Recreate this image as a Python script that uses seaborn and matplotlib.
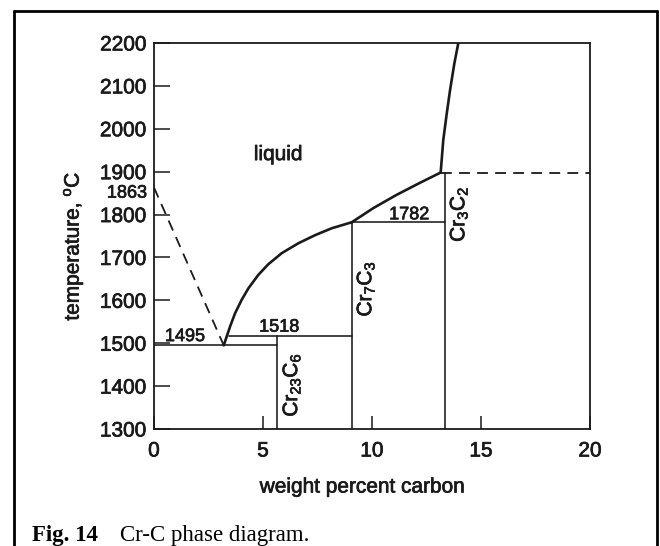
import numpy as np
import pandas as pd
import matplotlib
matplotlib.use("Agg")
import matplotlib.pyplot as plt
import matplotlib.patheffects as pe
import seaborn as sns
from matplotlib.lines import Line2D

# ---------------- data ----------------
# liquidus from the eutectic up to the Cr7C3 peritectic
liq1_x = [3.2, 3.49, 3.72, 4.02, 4.33, 4.78, 5.24, 5.86, 6.62, 7.39, 8.15, 9.07]
liq1_T = [1495, 1539, 1570, 1601, 1628, 1659, 1684, 1710, 1733, 1752, 1768, 1782]
# liquidus from Cr7C3 peritectic to Cr3C2 congruent melting
liq2_x = [9.07, 10.06, 11.13, 12.2, 13.15]
liq2_T = [1782, 1815, 1846, 1874, 1898]
# liquidus above Cr3C2
liq3_x = [13.15, 13.27, 13.43, 13.58, 13.78, 13.96]
liq3_T = [1898, 1974, 2036, 2090, 2153, 2200]
# dashed (uncertain) boundaries
dash1_x = [0, 3.2]
dash1_T = [1863, 1495]
dash2_x = [13.15, 20]
dash2_T = [1898, 1898]

# compounds (composition, wt% C) and invariant temperatures
comp_names = ["Cr$_{23}$C$_{6}$", "Cr$_{7}$C$_{3}$", "Cr$_{3}$C$_{2}$"]
comp_x = [5.66, 9.07, 13.33]
comp_top_T = [1518, 1782, 1898]
eutectic_T = 1495
peritectic1_T = 1518
peritectic2_T = 1782
cr_melt_T = 1863

x_ticks = [0, 5, 10, 15, 20]
y_ticks = [1300, 1400, 1500, 1600, 1700, 1800, 1900, 2000, 2100, 2200]

# ---------------- style ----------------
sns.set_theme(style="white")
plt.rcParams["font.family"] = ["Liberation Sans", "DejaVu Sans"]
plt.rcParams["mathtext.default"] = "regular"

col = "#1a1a1a"
thick = [pe.withStroke(linewidth=0.5, foreground=col)]

fig = plt.figure(figsize=(6.6, 5.46), dpi=100)
ax = fig.add_axes([154 / 660, 1 - 429 / 546, (590 - 154) / 660, (429 - 43) / 546])
ax.set_facecolor("white")

lw_curve = 1.9
lw_line = 1.15

def seg(xs, ts, lw):
    df = pd.DataFrame({"x": xs, "T": ts})
    sns.lineplot(data=df, x="x", y="T", sort=False, estimator=None, ax=ax,
                 color=col, lw=lw, solid_joinstyle="round", solid_capstyle="round")

seg(liq1_x, liq1_T, lw_curve)
seg(liq2_x, liq2_T, lw_curve)
seg(liq3_x, liq3_T, lw_curve)
ax.plot(dash1_x, dash1_T, color=col, lw=1.3, dashes=(6, 4))
ax.plot(dash2_x, dash2_T, color=col, lw=1.3, dashes=(6, 4))

# horizontal invariant lines
ax.plot([0, comp_x[0]], [eutectic_T, eutectic_T], color=col, lw=lw_line)
ax.plot([3.42, comp_x[1]], [peritectic1_T, peritectic1_T], color=col, lw=lw_line)
ax.plot([comp_x[1], comp_x[2]], [peritectic2_T, peritectic2_T], color=col, lw=lw_line)
# compound verticals
for cx, ct in zip(comp_x, comp_top_T):
    ax.plot([cx, cx], [1300, ct], color=col, lw=lw_line)

ax.set_xlim(0, 20)
ax.set_ylim(1300, 2200)
ax.set_xticks(x_ticks)
ax.set_yticks(y_ticks)
ax.set_xticklabels([str(v) for v in x_ticks])
ax.set_yticklabels([str(v) for v in y_ticks])
ax.tick_params(axis="y", direction="in", length=11.5, width=1.1, pad=5.3,
               labelsize=15, colors=col, left=True, right=False)
ax.tick_params(axis="x", direction="in", length=9.4, width=1.1, pad=9,
               labelsize=15, colors=col, bottom=True, top=False)
for lab in ax.get_xticklabels() + ax.get_yticklabels():
    lab.set_path_effects(thick)
for s in ax.spines.values():
    s.set_color(col)
    s.set_linewidth(1.3)
ax.set_xlabel("")
ax.set_ylabel("")

# annotations
kw = dict(color=col, path_effects=thick)
ax.text(5.7, 1927, "liquid", ha="center", va="baseline", fontsize=15, **kw)
ax.text(-0.32, 1850, str(cr_melt_T), ha="right", va="center", fontsize=13,
        clip_on=False, **kw)
ax.text(1.42, 1505, str(eutectic_T), ha="center", va="baseline", fontsize=13, **kw)
ax.text(5.74, 1527, str(peritectic1_T), ha="center", va="baseline", fontsize=13, **kw)
ax.text(11.7, 1789, str(peritectic2_T), ha="center", va="baseline", fontsize=13, **kw)
ax.text(6.32, 1403, comp_names[0], rotation=90, ha="center", va="center", fontsize=15, **kw)
ax.text(9.72, 1627, comp_names[1], rotation=90, ha="center", va="center", fontsize=15, **kw)
ax.text(13.99, 1801, comp_names[2], rotation=90, ha="center", va="center", fontsize=15, **kw)

# axis labels
fig.text(362.5 / 660, 1 - 487 / 546, "weight percent carbon", ha="center", va="center",
         fontsize=15, **kw)
fig.text(73 / 660, 1 - 246 / 546, "temperature, $^{o}$C", rotation=90, ha="center",
         va="center", fontsize=15, **kw)

# caption
serif = ["Liberation Serif", "DejaVu Serif"]
fig.text(32 / 660, 1 - 540.7 / 546, "Fig. 14", ha="left", va="baseline", fontsize=16.5,
         fontweight="bold", family=serif, color="black")
fig.text(120 / 660, 1 - 540.7 / 546, "Cr-C phase diagram.", ha="left", va="baseline",
         fontsize=16.5, family=serif, color="black")

# outer frame
fx = lambda p: p / 660
fy = lambda p: 1 - p / 546
for xs, ys in [([14, 14], [11, 546]), ([14, 657], [11, 11]), ([657, 657], [11, 546])]:
    fig.add_artist(Line2D([fx(v) for v in xs], [fy(v) for v in ys], color="black",
                          lw=2.0, transform=fig.transFigure))

fig.savefig("out.png", dpi=100, facecolor="white")
